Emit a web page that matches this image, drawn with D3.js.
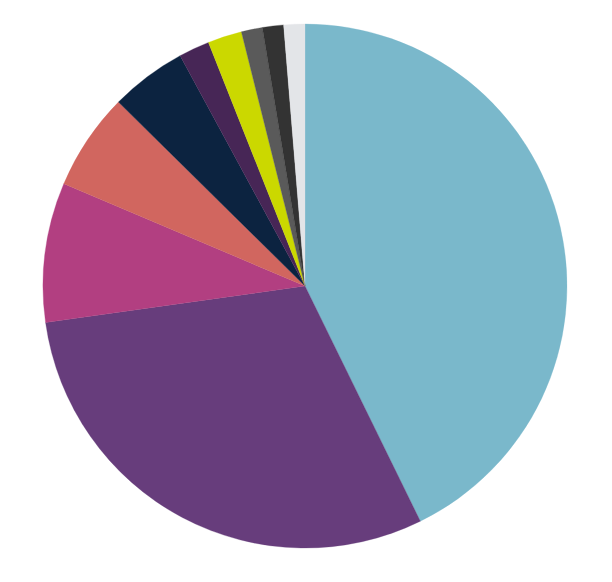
<!DOCTYPE html>
<html>
<head>
<meta charset="utf-8">
<script src="https://cdn.jsdelivr.net/npm/d3@7"></script>
<style>
html,body{margin:0;padding:0;background:#fff;}
svg{display:block;}
</style>
</head>
<body>
<svg id="chart" width="612" height="582"></svg>
<script>
const categories = ["A","B","C","D","E","F","G","H","I","J"];
const values = [42.7, 30.0, 8.6, 6.0, 4.7, 1.9, 2.1, 1.3, 1.3, 1.3];
const colors = ["#7AB8CB","#673D7C","#B23F81","#D1665F","#0C2340","#472656","#CBD800","#5A5A5A","#333333","#E3E5E8"];

const svg = d3.select("#chart");
const cx = 305, cy = 286, r = 262;
const data = categories.map((c,i)=>({cat:c, value:values[i]}));
const pie = d3.pie().value(d=>d.value).sort(null);
const arc = d3.arc().innerRadius(0).outerRadius(r);
const color = d3.scaleOrdinal().domain(categories).range(colors);

svg.append("g").attr("transform",`translate(${cx},${cy})`)
  .selectAll("path").data(pie(data)).join("path")
  .attr("d", arc)
  .attr("fill", d=>color(d.data.cat))
  .attr("stroke", d=>color(d.data.cat))
  .attr("stroke-width", 0.3);
</script>
</body>
</html>
